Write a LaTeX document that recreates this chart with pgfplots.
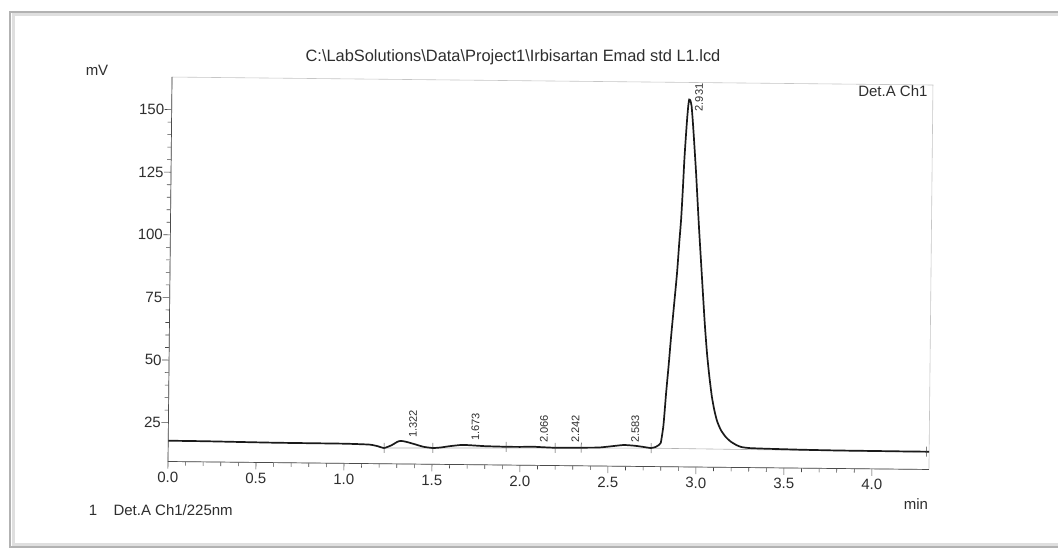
\documentclass[border=0pt]{standalone}
\usepackage{fontspec}
\setmainfont{Liberation Sans}
\usepackage{pgfplots}
\pgfplotsset{compat=1.18}
\definecolor{txt}{HTML}{2E2E2E}
\definecolor{crv}{HTML}{1A1A1A}
\begin{document}
\begin{tikzpicture}[x=1pt,y=1pt]
\useasboundingbox (0,0) rectangle (1058,550);
\fill[white] (0,0) rectangle (1058,550);
\draw[gray!25, line width=3pt] (1058,535) -- (13,535) -- (13,6) -- (1058,6);
\draw[gray!60, line width=1.2pt] (1058,538) -- (10,538) -- (10,3) -- (1058,3);
\begin{scope}[transform canvas={rotate around={-0.6:(168,88.5)}}]
\begin{axis}[
  at={(168pt,88.5pt)}, anchor=south west,
  width=761pt, height=384.5pt, scale only axis,
  xmin=0, xmax=4.324, ymin=9.5, ymax=163,
  axis line style={draw=gray!45, line width=0.6pt},
  xtick={0,0.5,...,4}, ytick={25,50,...,150},
  minor x tick num=4, minor y tick num=4,
  xtick pos=bottom, ytick pos=left,
  tick align=outside,
  major tick length=7pt, minor tick length=4pt,
  every tick/.style={gray!55!black, line width=0.6pt},
  /pgf/number format/assume math mode=true,
  tick label style={font=\fontsize{15}{15}\selectfont, text=txt},
  xticklabel style={/pgf/number format/.cd, fixed, fixed zerofill, precision=1},
  yticklabel style={xshift=3pt, /pgf/number format/.cd, fixed, precision=0},
  clip=true,
]
% baseline drawn by integration
\addplot[gray!60, line width=0.6pt] coordinates {(1.227,15.8) (1.504,16.0) (2.744,16.85) (4.324,16.4)};
% chromatogram
\addplot[crv, line width=1.7pt, smooth, tension=0.35] coordinates {
(0.00,17.8) (0.20,17.75) (0.40,17.6) (0.60,17.45) (0.80,17.4) (1.00,17.35)
(1.10,17.2) (1.15,17.05) (1.19,16.5) (1.227,15.8) (1.27,16.95) (1.30,18.25)
(1.32,18.7) (1.35,18.4) (1.40,17.45) (1.45,16.45) (1.504,16.0) (1.55,16.25)
(1.60,16.8) (1.67,17.35) (1.73,17.2) (1.80,16.95) (1.92,16.8) (2.00,16.8)
(2.07,16.95) (2.10,16.85) (2.199,16.6) (2.30,16.7) (2.347,16.75) (2.45,16.9)
(2.55,17.7) (2.59,18.0) (2.65,17.75) (2.70,17.3) (2.744,16.9) (2.77,17.35)
(2.79,18.25) (2.799,19.05) (2.813,26.1) (2.826,38.8) (2.839,50.1) (2.851,61.4)
(2.866,74.1) (2.881,86.8) (2.892,99.1) (2.901,108.2) (2.909,120.2) (2.916,132.2)
(2.923,141.2) (2.929,148.2) (2.935,153.7) (2.940,156.2) (2.947,155.7) (2.954,153.5)
(2.962,147.2) (2.971,138.9) (2.983,127.2) (2.993,116.2) (3.004,104.2) (3.016,92.2)
(3.030,78.2) (3.043,65.6) (3.057,54.3) (3.071,45.6) (3.086,37.8) (3.101,32.3)
(3.118,27.8) (3.140,24.3) (3.169,21.5) (3.198,19.7) (3.230,18.4) (3.256,17.7)
(3.30,17.3) (3.40,17.1) (3.60,16.85) (3.80,16.7) (4.00,16.65) (4.20,16.6) (4.324,16.6)
};
% integration marks
\addplot[only marks, mark=|, mark size=5pt, gray!50!black, mark options={line width=0.5pt}]
  coordinates {(1.227,15.8) (1.504,16.0) (1.92,16.8) (2.199,16.6) (2.347,16.75) (2.744,16.9) (4.31,16.6)};
\begin{scope}[every node/.style={rotate=90, anchor=west, inner sep=0pt, font=\fontsize{11}{11}\selectfont, text=txt}]
\node at (axis cs:1.39,20.0) {1.322};
\node at (axis cs:1.745,19.1) {1.673};
\node at (axis cs:2.135,18.6) {2.066};
\node at (axis cs:2.313,18.7) {2.242};
\node at (axis cs:2.653,19.0) {2.583};
\node at (axis cs:2.996,151.5) {2.931};
\end{scope}
\end{axis}
% dark left and bottom axis lines
\draw[gray!60!black, line width=0.7pt] (168,473) -- (168,88.5) -- (929,88.5);
\end{scope}
\node[font=\fontsize{16.4}{16}\selectfont, text=txt] at (513,493) {C:\textbackslash LabSolutions\textbackslash Data\textbackslash Project1\textbackslash Irbisartan Emad std L1.lcd};
\node[font=\fontsize{15}{15}\selectfont, text=txt] at (97,480) {mV};
\node[font=\fontsize{15}{15}\selectfont, text=txt, anchor=east] at (931,458.5) {Det.A Ch1};
\node[font=\fontsize{15}{15}\selectfont, text=txt] at (916,46) {min};
\node[font=\fontsize{15}{15}\selectfont, text=txt] at (93,40) {1};
\node[font=\fontsize{15}{15}\selectfont, text=txt, anchor=west] at (110,40) {Det.A Ch1/225nm};
\end{tikzpicture}
\end{document}
